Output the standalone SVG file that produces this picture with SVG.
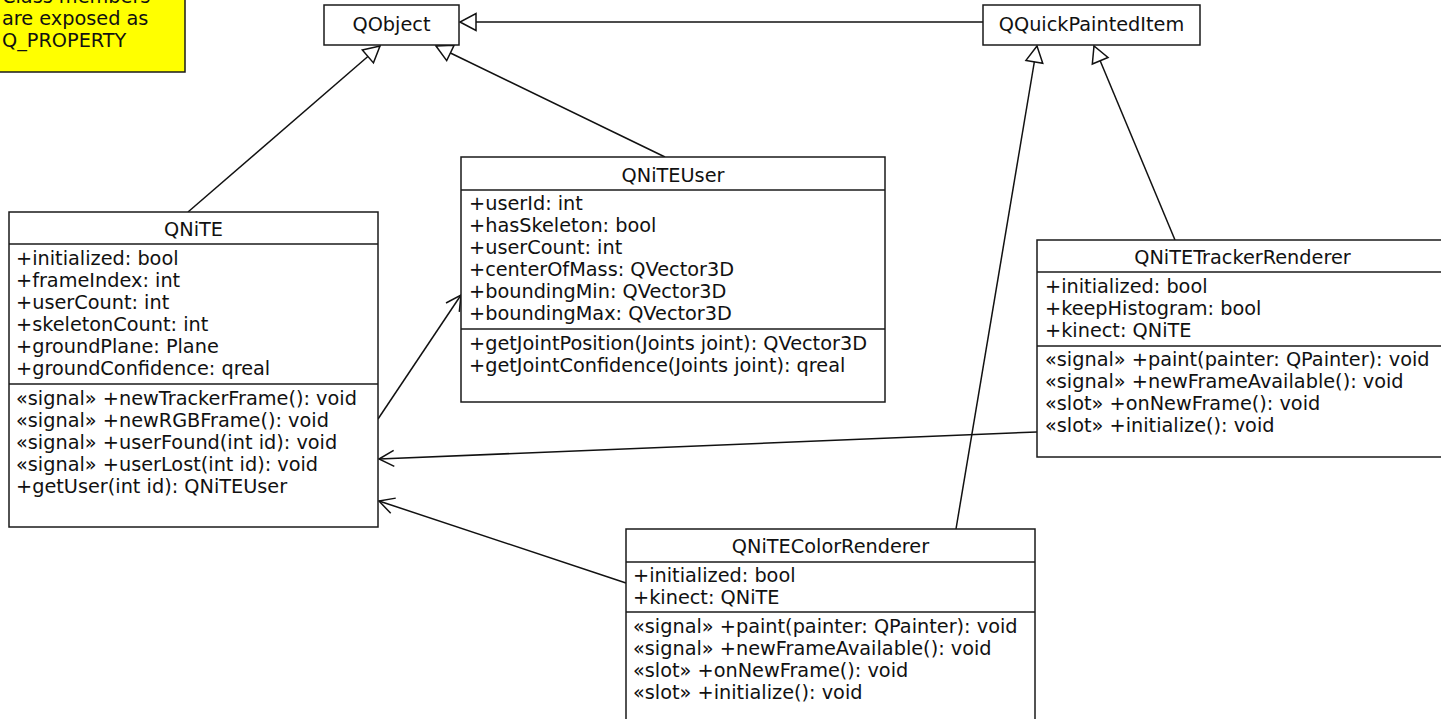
<svg xmlns="http://www.w3.org/2000/svg" width="1441" height="719" viewBox="0 0 1441 719">
  <style>
    text { font-family: "DejaVu Sans", "Liberation Sans", sans-serif; font-size: 19.3px; fill: #111; }
    .title { text-anchor: middle; }
    .box { fill: #ffffff; stroke: #1a1a1a; stroke-width: 1.5; }
    .div { stroke: #1a1a1a; stroke-width: 1.5; }
    .note { fill: #ffff00; stroke: #1a1a1a; stroke-width: 1.5; }
    .edge { fill: none; stroke: #111; stroke-width: 1.5; }
    .gen { marker-end: url(#hollowTri); }
    .dep { marker-end: url(#openArrow); }
  </style>
  <defs>
    <marker id="hollowTri" markerUnits="userSpaceOnUse" markerWidth="24" markerHeight="24" viewBox="-20 -12 24 24" refX="0" refY="0" orient="auto" overflow="visible">
      <path d="M0,0 L-16,-8.5 L-16,8.5 Z" fill="#ffffff" stroke="#111" stroke-width="1.5" stroke-linejoin="miter"/>
    </marker>
    <marker id="openArrow" markerUnits="userSpaceOnUse" markerWidth="24" markerHeight="24" viewBox="-20 -12 24 24" refX="0" refY="0" orient="auto" overflow="visible">
      <path d="M-15,-8 L0,0 L-15,8" fill="none" stroke="#111" stroke-width="1.5"/>
    </marker>
  </defs>

  <rect width="1441" height="719" fill="#ffffff"/>

  <!-- connectors -->
  <g id="connectors">
    <line class="edge gen" x1="983" y1="22" x2="460" y2="22"/>
    <line class="edge gen" x1="188" y1="212" x2="380" y2="46"/>
    <line class="edge gen" x1="665" y1="157" x2="436" y2="46"/>
    <line class="edge gen" x1="1175" y1="240" x2="1094" y2="46"/>
    <line class="edge gen" x1="956" y1="529" x2="1037" y2="46"/>
    <line class="edge dep" x1="378" y1="419" x2="461" y2="295"/>
    <line class="edge dep" x1="1037" y1="432" x2="379" y2="459"/>
    <line class="edge dep" x1="626" y1="583" x2="379" y2="501"/>
  </g>

  <!-- note -->
  <g id="note">
    <rect class="note" x="-6" y="-30" width="191" height="102"/>
    <text x="2" y="3">Class members</text>
    <text x="2" y="25">are exposed as</text>
    <text x="2" y="47">Q_PROPERTY</text>
  </g>

  <g id="QObject">
    <rect class="box" x="324" y="5" width="135" height="40"/>
    <text class="title" x="391.5" y="31">QObject</text>
  </g>

  <g id="QQuickPaintedItem">
    <rect class="box" x="983" y="5" width="217" height="40"/>
    <text class="title" x="1091.5" y="31">QQuickPaintedItem</text>
  </g>

  <g id="QNiTE">
    <rect class="box" x="9" y="212" width="369" height="315"/>
    <line class="div" x1="9" y1="244" x2="378" y2="244"/>
    <line class="div" x1="9" y1="384" x2="378" y2="384"/>
    <text class="title" x="193.5" y="236">QNiTE</text>
    <text x="16" y="265">+initialized: bool</text>
    <text x="16" y="287">+frameIndex: int</text>
    <text x="16" y="309">+userCount: int</text>
    <text x="16" y="331">+skeletonCount: int</text>
    <text x="16" y="353">+groundPlane: Plane</text>
    <text x="16" y="375">+groundConfidence: qreal</text>
    <text x="16" y="405">«signal» +newTrackerFrame(): void</text>
    <text x="16" y="427">«signal» +newRGBFrame(): void</text>
    <text x="16" y="449">«signal» +userFound(int id): void</text>
    <text x="16" y="471">«signal» +userLost(int id): void</text>
    <text x="16" y="493">+getUser(int id): QNiTEUser</text>
  </g>

  <g id="QNiTEUser">
    <rect class="box" x="461" y="157" width="424" height="245"/>
    <line class="div" x1="461" y1="190" x2="885" y2="190"/>
    <line class="div" x1="461" y1="329" x2="885" y2="329"/>
    <text class="title" x="673" y="182">QNiTEUser</text>
    <text x="469" y="210">+userId: int</text>
    <text x="469" y="232">+hasSkeleton: bool</text>
    <text x="469" y="254">+userCount: int</text>
    <text x="469" y="276">+centerOfMass: QVector3D</text>
    <text x="469" y="298">+boundingMin: QVector3D</text>
    <text x="469" y="320">+boundingMax: QVector3D</text>
    <text x="469" y="350">+getJointPosition(Joints joint): QVector3D</text>
    <text x="469" y="372">+getJointConfidence(Joints joint): qreal</text>
  </g>

  <g id="QNiTETrackerRenderer">
    <rect class="box" x="1037" y="240" width="411" height="217"/>
    <line class="div" x1="1037" y1="272" x2="1448" y2="272"/>
    <line class="div" x1="1037" y1="346" x2="1448" y2="346"/>
    <text class="title" x="1242.5" y="264">QNiTETrackerRenderer</text>
    <text x="1045" y="293">+initialized: bool</text>
    <text x="1045" y="315">+keepHistogram: bool</text>
    <text x="1045" y="337">+kinect: QNiTE</text>
    <text x="1045" y="366">«signal» +paint(painter: QPainter): void</text>
    <text x="1045" y="388">«signal» +newFrameAvailable(): void</text>
    <text x="1045" y="410">«slot» +onNewFrame(): void</text>
    <text x="1045" y="432">«slot» +initialize(): void</text>
  </g>

  <g id="QNiTEColorRenderer">
    <rect class="box" x="626" y="529" width="409" height="200"/>
    <line class="div" x1="626" y1="562" x2="1035" y2="562"/>
    <line class="div" x1="626" y1="612" x2="1035" y2="612"/>
    <text class="title" x="830.5" y="553">QNiTEColorRenderer</text>
    <text x="633" y="582">+initialized: bool</text>
    <text x="633" y="604">+kinect: QNiTE</text>
    <text x="633" y="633">«signal» +paint(painter: QPainter): void</text>
    <text x="633" y="655">«signal» +newFrameAvailable(): void</text>
    <text x="633" y="677">«slot» +onNewFrame(): void</text>
    <text x="633" y="699">«slot» +initialize(): void</text>
  </g>
</svg>
